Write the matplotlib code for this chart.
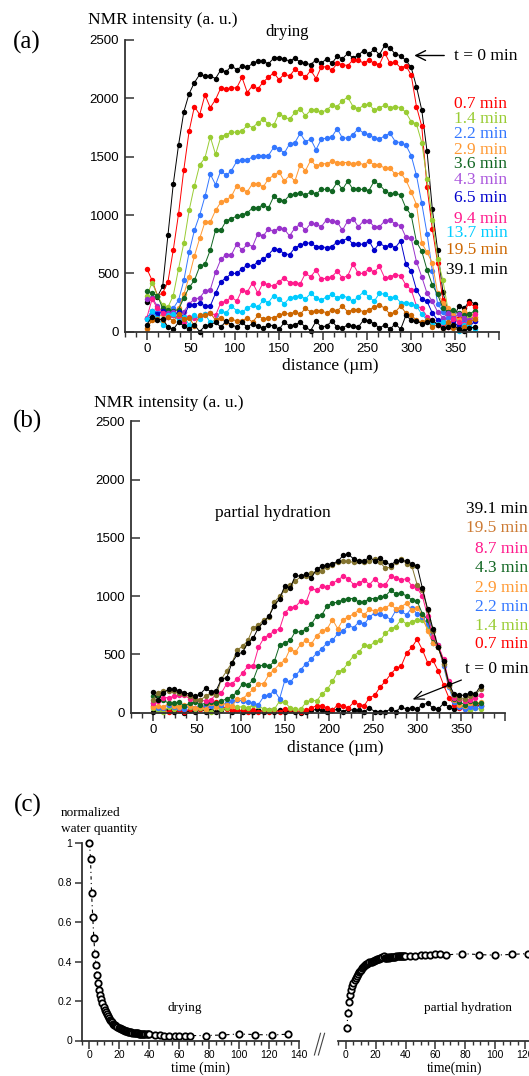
import matplotlib
matplotlib.use("Agg")
import matplotlib.pyplot as plt
from matplotlib.ticker import MultipleLocator, FixedLocator, FuncFormatter
from matplotlib.lines import Line2D

W, H = 529, 1076
SERIF = "Liberation Serif"
SANS = "Liberation Sans"

# ---------------- data ----------------
distance = [0, 6, 12, 18, 24, 30, 36, 42, 48, 54, 60, 66, 72, 78, 84, 90, 96, 102, 108, 114,
            120, 126, 132, 138, 144, 150, 156, 162, 168, 174, 180, 186, 192, 198, 204, 210,
            216, 222, 228, 234, 240, 246, 252, 258, 264, 270, 276, 282, 288, 294, 300, 306,
            312, 318, 324, 330, 336, 342, 348, 354, 360, 366, 372]

# panel (a) drying profiles
dry_t0 = [255, 290, 300, 390, 830, 1265, 1600, 1885, 2040, 2135, 2205, 2190, 2190, 2170, 2245, 2225,
          2280, 2245, 2275, 2265, 2300, 2320, 2320, 2295, 2345, 2350, 2335, 2320, 2345, 2310, 2300,
          2290, 2330, 2300, 2340, 2300, 2360, 2340, 2385, 2345, 2370, 2410, 2380, 2420, 2375, 2455,
          2430, 2380, 2365, 2325, 2265, 2100, 1900, 1545, 1050, 700, 340, 160, 110, 220, 200, 260, 240]
dry_07 = [540, 440, 310, 330, 430, 700, 1010, 1390, 1720, 1930, 1860, 2030, 1920, 1990, 2090, 2080,
          2090, 2090, 2180, 2050, 2110, 2080, 2140, 2180, 2220, 2160, 2210, 2190, 2250, 2220, 2180,
          2240, 2170, 2270, 2270, 2240, 2300, 2290, 2280, 2330, 2330, 2300, 2330, 2300, 2290, 2390,
          2300, 2310, 2260, 2280, 2200, 1930, 1760, 1240, 880, 590, 270, 150, 130, 120, 170, 250, 210]
dry_14 = [310, 420, 310, 230, 210, 310, 540, 760, 1040, 1250, 1430, 1490, 1670, 1520, 1670, 1690,
          1710, 1710, 1720, 1770, 1750, 1790, 1820, 1780, 1770, 1870, 1840, 1820, 1880, 1910, 1850,
          1900, 1900, 1880, 1900, 1940, 1930, 1980, 2010, 1930, 1910, 1940, 1950, 1900, 1920, 1940,
          1920, 1930, 1920, 1880, 1800, 1780, 1620, 1310, 960, 620, 440, 180, 160, 90, 130, 120, 170]
dry_22 = [120, 160, 170, 150, 150, 200, 270, 440, 680, 870, 1000, 1160, 1350, 1260, 1380, 1340,
          1380, 1460, 1470, 1470, 1500, 1510, 1510, 1510, 1580, 1570, 1530, 1610, 1620, 1700, 1630,
          1650, 1560, 1650, 1660, 1670, 1740, 1660, 1660, 1690, 1740, 1700, 1690, 1660, 1650, 1680,
          1700, 1630, 1620, 1600, 1510, 1340, 1100, 840, 520, 240, 170, 120, 150, 60, 100, 80, 130]
dry_29 = [20, 110, 120, 150, 140, 160, 200, 320, 470, 650, 800, 940, 940, 1040, 1110, 1130,
          1160, 1250, 1220, 1200, 1270, 1270, 1240, 1310, 1340, 1370, 1290, 1340, 1290, 1430, 1380,
          1470, 1420, 1440, 1440, 1460, 1450, 1450, 1450, 1440, 1450, 1430, 1460, 1430, 1430, 1400,
          1400, 1350, 1360, 1300, 1200, 1090, 760, 680, 590, 330, 250, 200, 140, 100, 180, 150, 130]
dry_36 = [350, 330, 310, 200, 190, 180, 190, 290, 380, 440, 560, 580, 700, 870, 870, 950,
          970, 990, 1000, 1020, 1060, 1060, 1090, 1060, 1160, 1130, 1120, 1170, 1180, 1190, 1170,
          1200, 1180, 1220, 1220, 1210, 1280, 1220, 1290, 1220, 1220, 1220, 1210, 1290, 1260, 1210,
          1180, 1190, 1170, 1060, 1000, 770, 690, 530, 400, 320, 200, 170, 190, 160, 140, 150, 180]
dry_43 = [280, 290, 220, 170, 160, 170, 140, 170, 240, 280, 290, 350, 360, 510, 620, 660,
          660, 750, 700, 750, 730, 840, 820, 880, 860, 890, 880, 820, 890, 920, 870,
          930, 920, 900, 960, 950, 940, 870, 950, 970, 900, 950, 950, 900, 900, 950,
          960, 920, 910, 810, 800, 600, 470, 330, 260, 170, 120, 160, 120, 150, 120, 100, 90]
dry_65 = [110, 180, 150, 180, 130, 140, 170, 130, 230, 230, 250, 220, 220, 330, 430, 460,
          500, 500, 540, 570, 560, 600, 620, 660, 710, 700, 670, 660, 720, 740, 760,
          760, 730, 730, 720, 730, 770, 780, 800, 750, 750, 750, 780, 700, 760, 730,
          740, 720, 780, 580, 520, 360, 280, 260, 160, 100, 80, 70, 90, 40, 70, 40, 90]
dry_94 = [120, 280, 200, 160, 130, 140, 120, 80, 130, 120, 130, 150, 160, 140, 250, 260,
          300, 260, 360, 340, 420, 330, 420, 400, 390, 430, 460, 420, 420, 410, 500,
          470, 530, 450, 460, 470, 520, 460, 480, 580, 500, 500, 540, 510, 560, 460,
          470, 490, 480, 400, 360, 220, 200, 130, 100, 60, 50, 40, 110, 80, 70, 80, 150]
dry_137 = [110, 180, 120, 60, 140, 150, 90, 130, 60, 140, 110, 150, 80, 100, 180, 160,
           220, 180, 170, 200, 230, 210, 270, 250, 310, 280, 240, 290, 300, 310, 280,
           330, 290, 270, 300, 320, 290, 310, 290, 260, 300, 340, 300, 260, 330, 320,
           290, 300, 250, 250, 240, 220, 150, 100, 70, 70, 80, 60, 40, 10, 60, 50, 20]
dry_195 = [30, 100, 110, 100, 130, 90, 150, 110, 120, 50, 140, 140, 160, 100, 120, 80,
           110, 90, 90, 120, 80, 140, 110, 120, 120, 140, 160, 150, 170, 150, 200,
           170, 180, 180, 160, 190, 180, 220, 170, 190, 190, 170, 190, 210, 230, 200,
           150, 170, 220, 160, 140, 100, 80, 100, 40, 60, 30, 80, 30, 20, 40, 80, 110]
dry_391 = [60, 130, 100, 110, 40, 20, 80, 50, 20, 60, 0, 50, 60, 80, 40, 90,
           60, 40, 80, 40, 70, 50, 30, 60, 50, 20, 80, 50, 60, 80, 40,
           10, 90, 40, 50, 90, 40, 30, 60, 50, 40, 100, 90, 70, 30, 60,
           20, 70, 20, 140, 100, 90, 70, 80, 100, 60, 30, 40, 60, 20, 10, 30, 40]

dry_labels = ["t = 0 min", "0.7 min", "1.4 min", "2.2 min", "2.9 min", "3.6 min", "4.3 min",
              "6.5 min", "9.4 min", "13.7 min", "19.5 min", "39.1 min"]
dry_series = [dry_t0, dry_07, dry_14, dry_22, dry_29, dry_36, dry_43, dry_65, dry_94,
              dry_137, dry_195, dry_391]
dry_colors = ["#000000", "#ff0000", "#99cc33", "#3377ff", "#ff9933", "#116622", "#9933cc",
              "#0000cc", "#ff1a8c", "#00ccff", "#cc6600", "#000000"]
dry_label_colors = ["#000000", "#ff0000", "#99cc33", "#3377ff", "#ff9933", "#116622", "#aa55dd",
                    "#0000cc", "#ff1a8c", "#00ccff", "#cc6600", "#000000"]

# panel (b) partial hydration profiles
hyd_t0 = [10, 20, 30, 20, 10, 20, 0, 20, 10, 30, 10, 20, 10, 20, 40, 10,
          20, 10, 30, 10, 20, 10, 20, 10, 20, 10, 20, 10, 0, 10, 20,
          30, 20, 10, 20, 30, 10, 30, 20, 20, 10, 40, 10, 10, 10, 30,
          10, 50, 30, 40, 30, 70, 80, 40, 30, 80, 50, 30, 50, 60, 40, 70, 60]
hyd_07 = [60, 40, 20, 10, 30, 20, 10, 30, 40, 30, 60, 70, 90, 60, 30, 20,
          20, 20, 10, 20, 10, 20, 10, 20, 10, 30, 30, 20, 10, 20, 40,
          60, 60, 40, 20, 70, 60, 40, 90, 70, 60, 130, 150, 220, 270, 330,
          380, 400, 510, 560, 630, 540, 430, 450, 360, 240, 130, 70, 40, 30, 30, 60, 70]
hyd_14 = [40, 20, 10, 50, 30, 60, 40, 50, 30, 40, 20, 10, 50, 30, 40, 60,
          50, 50, 40, 70, 60, 30, 20, 30, 100, 90, 40, 30, 30, 90, 110,
          100, 160, 200, 270, 350, 370, 430, 490, 520, 580, 570, 610, 620, 680, 720,
          740, 800, 760, 780, 800, 800, 720, 600, 570, 450, 250, 120, 60, 40, 20, 40, 30]
hyd_22 = [80, 40, 40, 70, 50, 40, 30, 60, 40, 70, 50, 60, 60, 70, 80, 100,
          110, 100, 90, 80, 70, 140, 150, 190, 120, 280, 260, 320, 370, 420, 460,
          510, 550, 600, 620, 680, 700, 750, 730, 780, 760, 820, 860, 850, 830, 800,
          880, 870, 840, 900, 850, 820, 760, 600, 580, 400, 220, 90, 50, 30, 50, 40, 60]
hyd_29 = [50, 60, 50, 80, 60, 50, 70, 60, 40, 50, 30, 80, 50, 80, 70, 60,
          120, 120, 160, 200, 250, 250, 330, 370, 420, 450, 550, 520, 590, 620, 590,
          660, 700, 720, 800, 720, 800, 820, 850, 880, 840, 890, 870, 890, 900, 930,
          890, 910, 940, 880, 900, 840, 700, 600, 560, 420, 230, 110, 70, 60, 80, 80, 90]
hyd_43 = [140, 150, 110, 80, 80, 90, 60, 80, 90, 70, 80, 90, 80, 100, 120, 140,
          180, 250, 240, 280, 400, 410, 400, 440, 580, 600, 620, 700, 690, 720, 760,
          830, 840, 920, 940, 950, 970, 980, 980, 950, 950, 980, 980, 990, 1000, 1050,
          1020, 1030, 1000, 970, 960, 850, 800, 640, 560, 440, 240, 120, 90, 70, 100, 80, 80]
hyd_87 = [80, 100, 130, 130, 140, 150, 150, 120, 120, 110, 100, 110, 160, 170, 250, 250,
          290, 340, 400, 400, 560, 640, 670, 700, 720, 860, 900, 910, 960, 950, 1070,
          1050, 1090, 1080, 1110, 1140, 1170, 1150, 1100, 1110, 1140, 1100, 1150, 1100, 1100, 1170,
          1160, 1140, 1150, 1090, 1070, 1000, 830, 650, 580, 460, 270, 130, 120, 100, 110, 130, 150]
hyd_195 = [110, 170, 190, 190, 190, 170, 160, 140, 120, 110, 140, 170, 150, 290, 360, 430,
           540, 570, 620, 730, 750, 800, 820, 950, 1000, 1050, 1100, 1130, 1170, 1170, 1200,
           1210, 1220, 1250, 1270, 1290, 1300, 1300, 1290, 1300, 1290, 1300, 1320, 1290, 1240, 1250,
           1290, 1320, 1280, 1260, 1100, 1050, 880, 700, 560, 420, 240, 150, 130, 120, 140, 160, 200]
hyd_391 = [180, 110, 170, 200, 200, 190, 170, 160, 140, 160, 210, 180, 190, 290, 300, 430,
           500, 520, 600, 640, 730, 780, 830, 920, 980, 1090, 1070, 1180, 1170, 1190, 1160,
           1230, 1260, 1270, 1280, 1300, 1350, 1360, 1320, 1300, 1300, 1340, 1300, 1330, 1290, 1270,
           1300, 1310, 1300, 1280, 1260, 1070, 890, 720, 560, 440, 250, 160, 150, 150, 170, 160, 230]

hyd_labels = ["39.1 min", "19.5 min", "8.7 min", "4.3 min", "2.9 min", "2.2 min", "1.4 min", "0.7 min"]
hyd_series = [hyd_t0, hyd_07, hyd_14, hyd_22, hyd_29, hyd_43, hyd_87, hyd_195, hyd_391]
hyd_colors = ["#000000", "#ff0000", "#99cc33", "#3377ff", "#ff9933", "#116622", "#ff1a8c",
              "#857530", "#000000"]
hyd_label_colors = ["#000000", "#cc7a33", "#ff1a8c", "#116622", "#ff9933", "#3377ff", "#99cc33", "#ff0000"]

# panel (c) normalized water quantity
dry_time = [0, 0.7, 1.4, 2.2, 2.9, 3.6, 4.3, 5.0, 5.8, 6.5, 7.2, 7.9, 8.6, 9.4, 10.1, 10.8, 11.5,
            12.2, 13.0, 13.7, 14.4, 15.1, 15.8, 16.6, 17.3, 18.0, 18.7, 19.5, 20.2, 20.9, 21.6,
            22.3, 23.0, 23.8, 24.5, 25.2, 25.9, 26.6, 27.4, 28.1, 28.8, 29.5, 30.2, 31.0, 31.7,
            32.4, 33.1, 33.8, 34.6, 35.3, 36.0, 36.7, 37.4, 38.2, 38.9, 39.6,
            44, 47, 50, 53, 57, 60, 64, 67, 78, 89, 100, 111, 122, 133]
dry_water = [1.0, 0.92, 0.745, 0.625, 0.52, 0.44, 0.38, 0.33, 0.29, 0.255, 0.23, 0.21, 0.19, 0.17,
             0.155, 0.145, 0.135, 0.125, 0.115, 0.105, 0.098, 0.092, 0.086, 0.08, 0.076, 0.072,
             0.068, 0.064, 0.061, 0.058, 0.056, 0.053, 0.051, 0.049, 0.047, 0.046, 0.044, 0.043,
             0.042, 0.041, 0.040, 0.039, 0.038, 0.037, 0.036, 0.036, 0.035, 0.035, 0.034, 0.034,
             0.033, 0.033, 0.032, 0.032, 0.032, 0.031,
             0.03, 0.028, 0.025, 0.025, 0.025, 0.022, 0.025, 0.025, 0.025, 0.028, 0.033, 0.03,
             0.028, 0.032]
hyd_time = [0.7, 1.4, 2.2, 2.9, 3.6, 4.3, 5.0, 5.8, 6.5, 7.2, 7.9, 8.6, 9.4, 10.1, 10.8, 11.5,
            12.2, 13.0, 13.7, 14.4, 15.1, 15.8, 16.6, 17.3, 18.0, 18.7, 19.5, 20.2, 20.9, 21.6,
            22.3, 23.0, 23.8, 24.5, 25.2, 25.9, 26.6, 27.4, 28.1, 28.8, 29.5, 30.2, 31.0, 31.7,
            32.4, 33.1, 33.8, 34.6, 35.3, 36.0, 36.7, 37.4, 38.2, 38.9, 39.6,
            43, 46, 50, 53, 56, 60, 63, 67, 78, 89, 100, 111, 122]
hyd_water = [0.065, 0.14, 0.195, 0.23, 0.255, 0.275, 0.29, 0.305, 0.315, 0.325, 0.335, 0.345, 0.35,
             0.358, 0.365, 0.37, 0.375, 0.38, 0.385, 0.388, 0.392, 0.395, 0.398, 0.40, 0.403, 0.405,
             0.407, 0.41, 0.412, 0.413, 0.415, 0.417, 0.42, 0.425, 0.428, 0.42, 0.418, 0.42, 0.422,
             0.42, 0.422, 0.423, 0.422, 0.424, 0.425, 0.425, 0.426, 0.426, 0.427, 0.427, 0.428,
             0.428, 0.429, 0.429, 0.43,
             0.43, 0.43, 0.435, 0.432, 0.432, 0.437, 0.437, 0.433, 0.44, 0.435, 0.432, 0.436, 0.44]

# ---------------- helpers ----------------
fig = plt.figure(figsize=(W / 100, H / 100), dpi=100)
fig.patch.set_facecolor("white")


def add_ax(l, t, r, b):
    return fig.add_axes([l / W, 1 - b / H, (r - l) / W, (b - t) / H])


def ftext(x, y, s, size, ha="left", va="center", color="black", family=SERIF):
    fig.text(x / W, 1 - y / H, s, fontsize=size, ha=ha, va=va, color=color, family=family)


SPINE = "#333333"


def style_profile_axes(ax):
    ax.set_xlim(-25, 400)
    ax.set_ylim(0, 2500)
    for s in ["top", "right"]:
        ax.spines[s].set_visible(False)
    for s in ["left", "bottom"]:
        ax.spines[s].set_color(SPINE)
        ax.spines[s].set_linewidth(1.3)
    ax.xaxis.set_major_locator(FixedLocator([0, 50, 100, 150, 200, 250, 300, 350, 400]))
    ax.xaxis.set_major_formatter(FuncFormatter(lambda v, p: "" if v >= 400 else f"{int(v)}"))
    ax.xaxis.set_minor_locator(MultipleLocator(12.5))
    ax.yaxis.set_major_locator(MultipleLocator(500))
    ax.tick_params(axis="x", which="major", direction="out", length=6, width=1.1, color=SPINE,
                   pad=2, labelsize=9.5)
    ax.tick_params(axis="x", which="minor", direction="out", length=3.5, width=1.0, color=SPINE)
    ax.tick_params(axis="y", which="major", direction="in", length=6.5, width=1.1, color=SPINE,
                   pad=4, labelsize=9.5)
    for lab in ax.get_xticklabels() + ax.get_yticklabels():
        lab.set_family(SANS)
    ax.patch.set_alpha(0)


# ---------------- panel (a) ----------------
axa = add_ax(124.8, 40, 499.3, 331.7)
style_profile_axes(axa)
for vals, col in zip(dry_series, dry_colors):
    axa.plot(distance, vals, color=col, lw=0.7, marker="o", ms=3.9, mew=0, clip_on=False)

ftext(13, 42, "(a)", 18)
ftext(87.7, 19.5, "NMR intensity (a. u.)", 12.5)
ftext(287, 32, "drying", 12, ha="center")
ftext(330.6, 366.5, "distance (\u00b5m)", 12.5, ha="center")
ftext(453.5, 55.5, dry_labels[0], 12.5)
axa.annotate("", xy=(411.5 / W, 1 - 55.5 / H), xycoords="figure fraction",
             xytext=(447 / W, 1 - 55.5 / H), textcoords="figure fraction",
             arrowprops=dict(arrowstyle="->,head_length=0.7,head_width=0.35", lw=1.0, color="black"))
dry_label_y = [103.5, 118.7, 134, 149.5, 163.5, 180.5, 198, 218.7, 232.8, 249.5, 269.7]
for lab, col, yy in zip(dry_labels[1:], dry_label_colors[1:], dry_label_y):
    ftext(507.5, yy, lab, 12.5, ha="right", color=col)

# ---------------- panel (b) ----------------
axb = add_ax(130.7, 421.5, 505.2, 712.7)
style_profile_axes(axb)
for vals, col in zip(hyd_series, hyd_colors):
    axb.plot(distance, vals, color=col, lw=0.7, marker="o", ms=3.9, mew=0, clip_on=False)

ftext(13, 421.7, "(b)", 18)
ftext(93.8, 402.7, "NMR intensity (a. u.)", 12.5)
ftext(272.6, 513.3, "partial hydration", 12.5, ha="center")
ftext(335.7, 748.3, "distance (\u00b5m)", 12.5, ha="center")
hyd_label_y = [509.3, 528.3, 549.3, 568.3, 588.3, 606.7, 626, 644.3]
for lab, col, yy in zip(hyd_labels, hyd_label_colors, hyd_label_y):
    ftext(528, yy, lab, 12.5, ha="right", color=col)
ftext(465, 669.3, "t = 0 min", 12.5)
axb.annotate("", xy=(410 / W, 1 - 700.5 / H), xycoords="figure fraction",
             xytext=(464 / W, 1 - 679 / H), textcoords="figure fraction",
             arrowprops=dict(arrowstyle="->,head_length=0.7,head_width=0.3", lw=0.9, color="black"))

# ---------------- panel (c) ----------------
def style_c(ax, show_y):
    ax.set_xlim(-5, 140)
    ax.set_ylim(0, 1)
    for s in ["top", "right"]:
        ax.spines[s].set_visible(False)
    ax.spines["bottom"].set_color(SPINE)
    ax.spines["bottom"].set_linewidth(1.3)
    ax.spines["left"].set_color(SPINE)
    ax.spines["left"].set_linewidth(1.3)
    ax.spines["left"].set_visible(show_y)
    ax.xaxis.set_major_locator(MultipleLocator(20))
    ax.xaxis.set_minor_locator(MultipleLocator(5))
    ax.tick_params(axis="x", which="major", direction="out", length=5.5, width=1.1, color=SPINE,
                   pad=1.5, labelsize=7.5)
    ax.tick_params(axis="x", which="minor", direction="out", length=3.2, width=1.0, color=SPINE)
    if show_y:
        ax.yaxis.set_major_locator(MultipleLocator(0.2))
        ax.yaxis.set_major_formatter(FuncFormatter(lambda v, p: "0" if abs(v) < 1e-9 else ("1" if abs(v - 1) < 1e-9 else f"{v:.1f}")))
        ax.tick_params(axis="y", which="major", direction="out", length=5, width=1.1, color=SPINE,
                       pad=2, labelsize=7.5)
    else:
        ax.tick_params(axis="y", left=False, labelleft=False)
    for lab in ax.get_xticklabels() + ax.get_yticklabels():
        lab.set_family(SANS)
    ax.patch.set_alpha(0)


axc1 = add_ax(82, 843, 298.6, 1040.5)
style_c(axc1, True)
axc1.plot(dry_time, dry_water, color="black", lw=0.8, ls=(0, (3, 3, 1, 3)), marker="o", ms=4.6,
          mfc="white", mec="black", mew=1.3, clip_on=False)

axc2 = add_ax(338.4, 843, 555, 1040.5)
style_c(axc2, False)
axc2.plot(hyd_time, hyd_water, color="black", lw=0.8, ls=(0, (3, 3, 1, 3)), marker="o", ms=4.6,
          mfc="white", mec="black", mew=1.3, clip_on=False)

ftext(13.5, 805, "(c)", 18)
ftext(60.7, 813.3, "normalized", 9.5)
ftext(60.7, 829.3, "water quantity", 9.5)
ftext(185, 1008, "drying", 9.5, ha="center")
ftext(468, 1008, "partial hydration", 9.5, ha="center")
ftext(200.5, 1068, "time (min)", 10, ha="center")
ftext(455, 1068, "time(min)", 10, ha="center")

# axis break marks
for (x0, y0, x1, y1) in [(314.4, 1055, 320.5, 1033.3), (318.4, 1055, 324.6, 1033.3)]:
    fig.add_artist(Line2D([x0 / W, x1 / W], [1 - y0 / H, 1 - y1 / H], transform=fig.transFigure,
                          color="#444444", lw=0.8))

fig.savefig("out.png", dpi=100)
